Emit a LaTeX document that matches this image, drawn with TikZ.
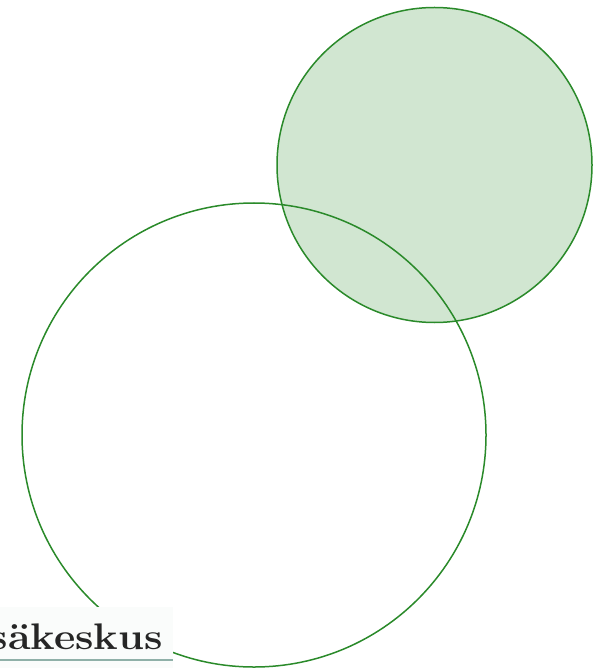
\documentclass[tikz,border=0pt]{standalone}
\usepackage{graphicx}
\begin{document}
\begin{tikzpicture}[x=1pt,y=-1pt,
  circ/.style={draw=ringgreen,line width=1.5pt},
]
\definecolor{ringgreen}{HTML}{2A8A2A}
\definecolor{fillgreen}{HTML}{D1E6D1}
\definecolor{rulecol}{HTML}{8FB0A8}
\definecolor{boxcol}{HTML}{FAFCFB}
\useasboundingbox (0,0) rectangle (599,668);
\node[circ,fill=fillgreen,circle,minimum size=315pt,inner sep=0pt] (small) at (434.5,165) {};
\node[circ,circle,minimum size=464pt,inner sep=0pt] (big) at (254,435) {};
\begin{scope}
  \clip (0,607) rectangle (173,668);
  \fill[boxcol] (0,607) rectangle (173,668);
  \node[anchor=base east,inner sep=0pt,text=black!85,font=\bfseries\fontsize{37}{40}\selectfont] (logo) at (163,649) {\scalebox{1.12}[1]{säkeskus}};
  \draw[rulecol,line width=1.5pt] (0,660) -- (173,660);
\end{scope}
\end{tikzpicture}
\end{document}
